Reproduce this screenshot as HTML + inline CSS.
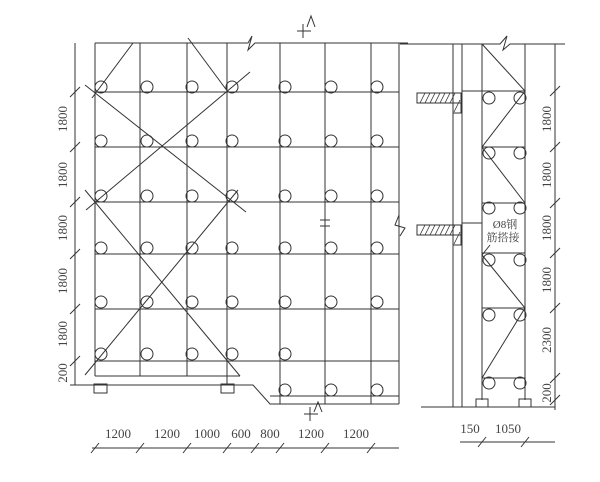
<!DOCTYPE html>
<html><head><meta charset="utf-8"><style>
html,body{margin:0;padding:0;background:#fff;}
svg{display:block;}
text{font-family:"Liberation Serif","Noto Serif CJK SC",serif;fill:#444;font-size:13px;}
</style></head><body>
<svg width="600" height="482" viewBox="0 0 600 482" xmlns="http://www.w3.org/2000/svg">
<g stroke="#333" stroke-width="1" fill="none">
<!-- top line with break -->
<polyline points="95,43 240,43"/>
<polyline points="240,43 248,43 252,36 248,50 255,43 408,43"/>
<!-- left columns -->
<line x1="95" y1="43" x2="95" y2="376"/>
<line x1="140" y1="43" x2="140" y2="376"/>
<line x1="187" y1="43" x2="187" y2="376"/>
<line x1="227" y1="43" x2="227" y2="385"/>
<line x1="280" y1="43" x2="280" y2="404"/>
<line x1="325" y1="43" x2="325" y2="404"/>
<line x1="371" y1="43" x2="371" y2="404"/>
<line x1="399" y1="43" x2="399" y2="404"/>
<!-- rows -->
<line x1="95" y1="92" x2="399" y2="92"/>
<line x1="95" y1="147" x2="399" y2="147"/>
<line x1="95" y1="202" x2="399" y2="202"/>
<line x1="95" y1="254" x2="399" y2="254"/>
<line x1="95" y1="309" x2="399" y2="309"/>
<line x1="95" y1="361" x2="399" y2="361"/>
<line x1="95" y1="376" x2="240" y2="376"/>
<polyline points="70,385 253,385 270,404 399,404"/>
<line x1="270" y1="396" x2="399" y2="396"/>
<!-- right break -->
<polyline points="399,215 395,225 405,228 400,236"/>
<!-- diagonals -->
<line x1="133" y1="43" x2="92" y2="98"/>
<line x1="188" y1="38" x2="228" y2="92"/>
<line x1="85" y1="85" x2="246" y2="212"/>
<line x1="250" y1="72" x2="86" y2="210"/>
<line x1="85" y1="190" x2="240" y2="376"/>
<line x1="238" y1="190" x2="85" y2="375"/>
<!-- vertical dim -->
<line x1="75" y1="43" x2="75" y2="385"/>
<g>
<line x1="70" y1="97" x2="80" y2="87"/>
<line x1="70" y1="152" x2="80" y2="142"/>
<line x1="70" y1="207" x2="80" y2="197"/>
<line x1="70" y1="259" x2="80" y2="249"/>
<line x1="70" y1="314" x2="80" y2="304"/>
<line x1="70" y1="366" x2="80" y2="356"/>
</g>
<!-- squares -->
<rect x="94" y="384" width="13" height="9"/>
<rect x="221" y="384" width="13" height="9"/>
<!-- bottom dim -->
<line x1="92" y1="448" x2="399" y2="448"/>
<g>
<line x1="91" y1="453" x2="99" y2="443"/>
<line x1="136" y1="453" x2="144" y2="443"/>
<line x1="183" y1="453" x2="191" y2="443"/>
<line x1="223" y1="453" x2="231" y2="443"/>
<line x1="251" y1="453" x2="259" y2="443"/>
<line x1="276" y1="453" x2="284" y2="443"/>
<line x1="321" y1="453" x2="329" y2="443"/>
<line x1="367" y1="453" x2="375" y2="443"/>
</g>
<!-- section marks -->
<line x1="297" y1="31" x2="311" y2="31"/><line x1="303" y1="24" x2="303" y2="38"/>
<line x1="304" y1="414" x2="318" y2="414"/><line x1="310" y1="407" x2="310" y2="421"/>
<line x1="320" y1="220" x2="330" y2="220"/><line x1="320" y1="226" x2="330" y2="226"/>
<!-- circles left -->
<g>
<circle cx="101" cy="87" r="6"/><circle cx="147" cy="87" r="6"/><circle cx="192" cy="87" r="6"/><circle cx="232" cy="87" r="6"/><circle cx="285" cy="87" r="6"/><circle cx="331" cy="87" r="6"/><circle cx="377" cy="87" r="6"/>
<circle cx="101" cy="141" r="6"/><circle cx="147" cy="141" r="6"/><circle cx="192" cy="141" r="6"/><circle cx="232" cy="141" r="6"/><circle cx="285" cy="141" r="6"/><circle cx="331" cy="141" r="6"/><circle cx="377" cy="141" r="6"/>
<circle cx="101" cy="196" r="6"/><circle cx="147" cy="196" r="6"/><circle cx="192" cy="196" r="6"/><circle cx="232" cy="196" r="6"/><circle cx="285" cy="196" r="6"/><circle cx="331" cy="196" r="6"/><circle cx="377" cy="196" r="6"/>
<circle cx="101" cy="248" r="6"/><circle cx="147" cy="248" r="6"/><circle cx="192" cy="248" r="6"/><circle cx="232" cy="248" r="6"/><circle cx="285" cy="248" r="6"/><circle cx="331" cy="248" r="6"/><circle cx="377" cy="248" r="6"/>
<circle cx="101" cy="302" r="6"/><circle cx="147" cy="302" r="6"/><circle cx="192" cy="302" r="6"/><circle cx="232" cy="302" r="6"/><circle cx="285" cy="302" r="6"/><circle cx="331" cy="302" r="6"/><circle cx="377" cy="302" r="6"/>
<circle cx="101" cy="354" r="6"/><circle cx="147" cy="354" r="6"/><circle cx="192" cy="354" r="6"/><circle cx="232" cy="354" r="6"/><circle cx="285" cy="354" r="6"/>
<circle cx="285" cy="390" r="6"/><circle cx="331" cy="390" r="6"/><circle cx="377" cy="390" r="6"/>
</g>

<!-- right section -->
<polyline points="400,44 500,44 507,36 503,50 510,44 565,44"/>
<line x1="453" y1="44" x2="453" y2="407"/>
<line x1="462" y1="44" x2="462" y2="407"/>
<line x1="482" y1="44" x2="482" y2="400"/>
<line x1="525" y1="44" x2="525" y2="400"/>
<line x1="555" y1="44" x2="555" y2="410"/>
<line x1="421" y1="407" x2="555" y2="407"/>
<line x1="462" y1="91" x2="482" y2="91"/>
<line x1="462" y1="223" x2="482" y2="223"/>
<g>
<line x1="482" y1="91" x2="525" y2="91"/>
<line x1="482" y1="147" x2="525" y2="147"/>
<line x1="482" y1="203" x2="525" y2="203"/>
<line x1="482" y1="253" x2="525" y2="253"/>
<line x1="482" y1="308" x2="525" y2="308"/>
<line x1="482" y1="378" x2="525" y2="378"/>
</g>
<polyline points="482,44 525,91 482,147 525,203"/>
<line x1="482" y1="255" x2="490" y2="245"/>
<polyline points="482,255 525,308 482,378"/>
<g>
<circle cx="489" cy="98" r="6"/><circle cx="520" cy="98" r="6"/>
<circle cx="489" cy="153" r="6"/><circle cx="520" cy="153" r="6"/>
<circle cx="489" cy="208" r="6"/><circle cx="520" cy="208" r="6"/>
<circle cx="489" cy="260" r="6"/><circle cx="520" cy="260" r="6"/>
<circle cx="489" cy="315" r="6"/><circle cx="520" cy="315" r="6"/>
<circle cx="489" cy="383" r="6"/><circle cx="520" cy="383" r="6"/>
</g>
<rect x="476" y="399" width="12" height="8"/>
<rect x="519" y="399" width="12" height="8"/>
<!-- slabs -->
<rect x="417" y="93" width="44" height="10"/>
<rect x="453" y="93" width="8" height="20"/>
<rect x="417" y="225" width="44" height="10"/>
<rect x="453" y="225" width="8" height="20"/>
<g stroke-width="0.8">
<path d="M420,103 l5,-10 M425,103 l5,-10 M430,103 l5,-10 M435,103 l5,-10 M440,103 l5,-10 M445,103 l5,-10 M450,103 l5,-10 M454,112 l6,-12"/>
<path d="M420,235 l5,-10 M425,235 l5,-10 M430,235 l5,-10 M435,235 l5,-10 M440,235 l5,-10 M445,235 l5,-10 M450,235 l5,-10 M454,244 l6,-12"/>
</g>
<!-- right dims -->
<g>
<line x1="550" y1="96" x2="560" y2="86"/>
<line x1="550" y1="152" x2="560" y2="142"/>
<line x1="550" y1="208" x2="560" y2="198"/>
<line x1="550" y1="258" x2="560" y2="248"/>
<line x1="550" y1="313" x2="560" y2="303"/>
<line x1="550" y1="383" x2="560" y2="373"/>
<line x1="550" y1="405" x2="560" y2="395"/>
</g>
<line x1="460" y1="442" x2="555" y2="442"/>
<line x1="478" y1="447" x2="486" y2="437"/>
<line x1="521" y1="447" x2="529" y2="437"/>
</g>
<g fill="none" stroke="#333" stroke-width="1"><path d="M307,27 L311,16 L315,27"/><path d="M314,412 L318,402 L322,412"/></g>
<!-- labels -->
<g text-anchor="middle">
<text transform="translate(67,119) rotate(-90)">1800</text>
<text transform="translate(67,175) rotate(-90)">1800</text>
<text transform="translate(67,228) rotate(-90)">1800</text>
<text transform="translate(67,281) rotate(-90)">1800</text>
<text transform="translate(67,334) rotate(-90)">1800</text>
<text transform="translate(67,373) rotate(-90)">200</text>
<text x="118" y="438">1200</text>
<text x="167" y="438">1200</text>
<text x="207" y="438">1000</text>
<text x="241" y="438">600</text>
<text x="270" y="438">800</text>
<text x="311" y="438">1200</text>
<text x="356" y="438">1200</text>
<text transform="translate(551,119) rotate(-90)">1800</text>
<text transform="translate(551,175) rotate(-90)">1800</text>
<text transform="translate(551,228) rotate(-90)">1800</text>
<text transform="translate(551,280) rotate(-90)">1800</text>
<text transform="translate(551,340) rotate(-90)">2300</text>
<text transform="translate(551,393) rotate(-90)">200</text>
<text x="470" y="433">150</text>
<text x="508" y="433">1050</text>
<text x="505" y="228" style="font-size:11px">Ø8钢</text>
<text x="503" y="241" style="font-size:11px">筋搭接</text>
</g>
</svg>
</body></html>
